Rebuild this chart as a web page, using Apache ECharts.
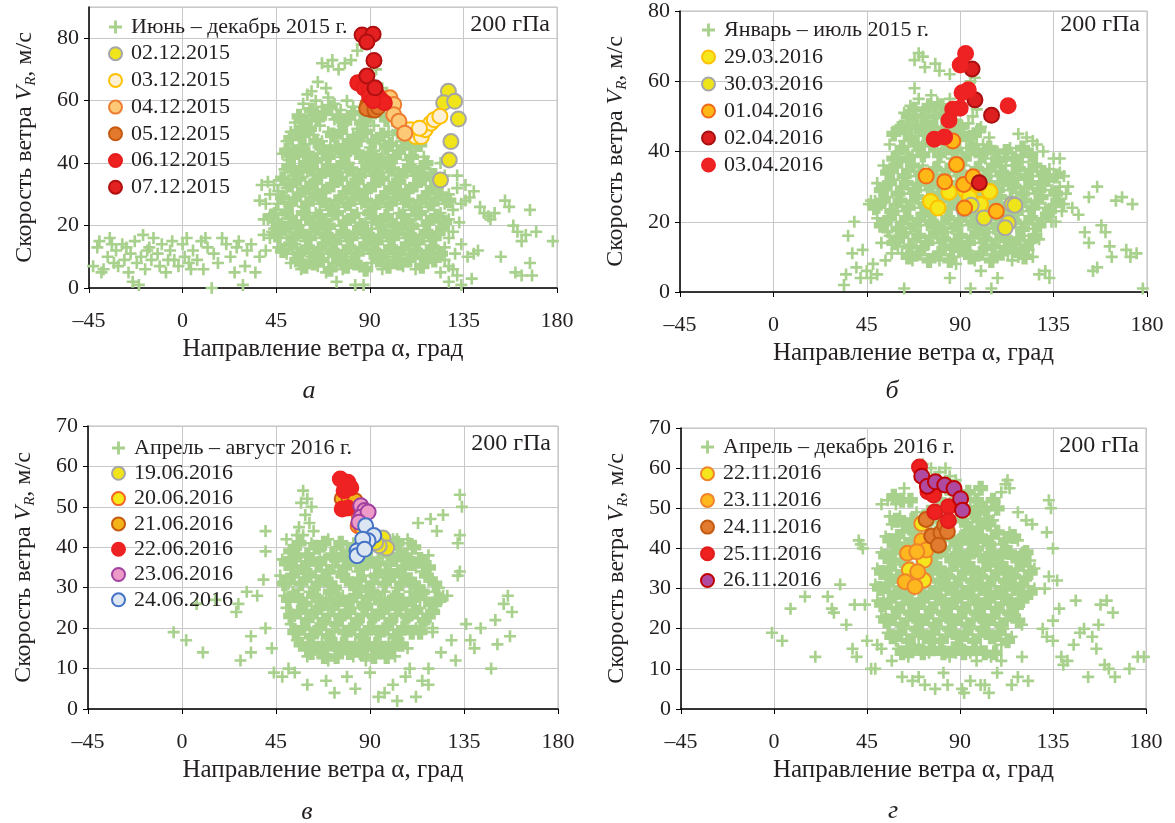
<!DOCTYPE html>
<html>
<head>
<meta charset="utf-8">
<script src="https://cdn.jsdelivr.net/npm/echarts@6/dist/echarts.min.js"></script>
<style>
  html, body { margin: 0; padding: 0; background: #fff; }
  #chart { width: 1175px; height: 823px; }
</style>
</head>
<body>
<div id="chart"></div>
<script>
// ==============================================================
// data: wind direction (deg), wind speed V_R (m/s)
// ==============================================================
var xTicks = [-45, 0, 45, 90, 135, 180];

// panel a — June–December 2015
var cloudA = [
  [-43,7],[-41,13],[-40,15],[-39,5],[-38,6],[-36,10],[-35,16],[-34,14],[-33,8],[-32,12],[-31,7],[-29,14],[-28,9],[-27,13],
  [-26,5],[-25,11],[-24,2],[-23,15],[-22,8],[-21,1],[-20,10],[-19,17],[-18,6],[-17,12],[-16,13],[-15,9],[-14,16],[-12,11],
  [-11,7],[-10,14],[-8,5],[-7,9],[-6,12],[-5,15],[-4,9],[-2,7],[0,14],[1,10],[2,16],[3,8],[4,6],[5,12],[7,9],[9,15],[10,6],
  [11,16],[12,13],[14,0],[15,11],[17,8],[19,16],[21,14],[23,10],[25,5],[26,13],[27,15],[29,1],[30,7],[31,12],[33,14],[35,5],
  [37,10],[39,17],[40,12],
  [40,27],[42,30],[44,19],[42,16],[46,31],[45,25],[39,22],[37,28],
  [126,36],[130,25],[132,36],[134,27],[128,22],[136,33],[124,40],[130,18],[134,14],[126,9],[130,6],
  [58,59],[61,57],[64,60],[67,58],[70,61],[73,59],[76,57],[79,60],[82,58],[86,56],[63,55],
  [62,63],[65,66],[67,72],[70,71],[72,73],[75,70],[78,72],[81,73],[84,76],[86,78],[69,64],[96,64],[98,62],[100,61],[102,60],[93,70],[89,66],[60,62],
  [54,53],[57,51],[60,54],[66,52],[70,50],[73,54],[77,52],[80,55],[84,51],[88,54],[92,52],[96,55],[99,50],[103,52],[52,50],
  [50,47],[53,45],[56,48],[59,46],[63,49],[67,47],[71,45],[74,48],[78,46],[82,49],[86,47],[90,45],[94,48],[97,46],[101,49],[105,47],[110,45],[113,48],
  [48,43],[51,41],[55,44],[58,42],[62,40],[65,43],[69,41],[72,44],[76,42],[80,40],[84,43],[88,41],[92,44],[96,42],[100,40],[104,43],[108,41],[112,44],[116,42],
  [49,38],[53,36],[57,39],[60,37],[64,35],[68,38],[71,36],[75,39],[79,37],[83,35],[87,38],[91,36],[95,39],[99,37],[103,35],[107,38],[111,36],[115,39],[119,37],
  [38,33],[41,34],[44,33],[50,32],[54,34],[58,31],[62,33],[66,30],[70,32],[74,34],[78,31],[82,33],[86,30],[90,32],[94,34],[98,31],[102,33],[106,30],[110,32],[114,34],[118,31],[122,33],[128,30],[132,32],[136,28],[140,31],
  [46,27],[50,25],[54,28],[58,26],[62,29],[66,27],[70,25],[74,28],[78,26],[82,29],[86,27],[90,25],[94,28],[98,26],[102,29],[106,27],[110,25],[114,28],[118,26],[122,29],[126,27],[138,29],[143,26],
  [41,22],[44,24],[48,21],[52,23],[56,20],[60,22],[64,24],[68,21],[72,23],[76,20],[80,22],[84,24],[88,21],[92,23],[96,20],[100,22],[104,24],[108,21],[112,23],[116,20],[120,22],[124,24],[133,21],[147,23],[150,24],
  [43,18],[47,16],[51,19],[55,17],[59,15],[63,18],[67,16],[71,19],[75,17],[79,15],[83,18],[87,16],[91,19],[95,17],[99,15],[103,18],[107,16],[111,19],[115,17],[119,15],[123,18],[128,16],
  [46,13],[50,11],[54,14],[58,12],[62,10],[66,13],[70,11],[74,14],[78,12],[82,10],[86,13],[90,11],[94,14],[98,12],[102,10],[106,13],[110,11],[114,14],[118,12],[122,10],[126,13],[131,11],[137,10],[140,11],
  [52,8],[57,6],[61,9],[65,7],[69,5],[73,8],[77,6],[81,9],[85,7],[91,8],[96,6],[101,9],[106,7],[112,6],[118,8],[124,5],[128,7],[132,4],
  [74,2],[83,1],[87,1],[128,2],[134,1],
  [148,22],[153,10],[155,28],[157,26],[159,20],[161,18],[163,15],[165,17],[167,25],[170,18],[178,15],[160,5],[163,4],[167,8],[168,4],[142,12],[145,24],[139,3]
];
var coreA = [
  [56,55],[59,53],[62,57],[65,54],[68,56],[71,58],[75,55],[78,53],[82,56],[86,53],[90,55],[94,57],[98,54],
  [52,48],[55,50],[58,49],[61,51],[64,47],[72,49],[76,50],[80,47],[84,48],[88,50],[92,47],[96,49],[100,46],[104,50],[108,48],
  [50,44],[53,42],[57,45],[60,43],[64,41],[67,45],[70,42],[74,45],[78,43],[82,45],[86,42],[90,43],[94,41],[98,45],[102,42],[106,45],[110,42],[114,46],
  [51,39],[55,37],[59,40],[62,38],[66,36],[70,39],[73,37],[77,40],[81,38],[85,36],[89,39],[93,37],[97,40],[101,38],[105,36],[109,39],[113,37],[117,40],[121,36],
  [48,35],[52,33],[56,35],[60,32],[64,34],[68,31],[72,33],[76,35],[80,32],[84,34],[88,31],[92,33],[96,35],[100,32],[104,34],[108,31],[112,33],[116,35],[120,32],[124,34],
  [48,29],[52,27],[56,30],[60,27],[64,30],[68,28],[72,26],[76,29],[80,27],[84,30],[88,28],[92,26],[96,29],[100,27],[104,30],[108,28],[112,26],[116,29],[120,27],[124,30],[128,28],
  [43,23],[46,20],[50,24],[54,21],[58,24],[62,21],[66,23],[70,20],[74,24],[78,21],[82,23],[86,20],[90,24],[94,21],[98,23],[102,20],[106,23],[110,20],[114,24],[118,21],[122,23],[126,21],
  [45,17],[49,19],[53,16],[57,18],[61,16],[65,19],[69,17],[73,15],[77,18],[81,16],[85,19],[89,17],[93,15],[97,18],[101,16],[105,19],[109,17],[113,15],[117,18],[121,16],[125,19],
  [48,12],[52,14],[56,11],[60,13],[64,11],[68,14],[72,12],[76,10],[80,13],[84,11],[88,14],[92,12],[96,10],[100,13],[104,11],[108,14],[112,12],[116,10],[120,13],[124,11],
  [55,9],[59,7],[63,8],[67,9],[71,6],[75,9],[79,7],[83,8],[88,6],[94,9],[99,7],[104,8],[109,9],[115,7],[121,9]
];
var a_0212 = [[127.8,63],[125.5,59.3],[130.8,59.8],[132.6,54.1],[129,46.9],[128.2,41],[124,34.6]];
var a_0312 = [[109.5,50.7],[112,48.5],[114.8,48.5],[116.6,50.7],[119.3,52.8],[121,53.9],[113.9,51.2],[123.7,55]];
var a_0412 = [[97.5,60.5],[99.7,60.9],[101.5,58.8],[101.5,55.5],[104,53.4],[106.8,49.6]];
var a_0512 = [[89,58.8],[90.8,57.1],[88.5,57.5],[92.5,57],[94,58]];
var a_0612 = [[84.2,65.7],[87.2,64.1],[89.9,63.6],[93.4,62],[89.9,61.4],[95.2,60.4],[97,59.3],[91.6,60]];
var a_0712 = [[86.3,81],[91.6,81.3],[88.6,78.8],[92,72.9],[88.6,67.9],[92.5,64.1]];

// panel б — January–July 2015
var cloudB = [
  [70,68],[72,67],[68,66],[78,65],[80,63],[85,62],[68,58],[95,60],[97,61],[73,64],
  [34,2],[35,5],[36,16],[38,11],[39,20],[40,7],[42,4],[43,12],[45,6],[46,25],[47,4],[48,8],[50,5],[52,14],[54,9],[55,17],[57,11],[60,13],[63,1],[52,25],[49,26],
  [135,38],[138,34],[141,28],[144,24],[147,22],[150,17],[152,14],[154,6],[156,7],[158,19],[160,17],[162,13],[163,10],[165,26],[168,27],[170,12],[172,10],[175,11],[178,1],[173,25],[156,30],[152,27],
  [138,38],[140,33],[142,30],[136,20],[140,25],[130,40],[127,42],
  [80,9],[85,4],[88,8],[95,1],[100,6],[105,1],[108,4],[115,9],[120,11],[125,10],[128,5],[133,4],[131,6],[112,13],
  [118,45],[122,44],[125,43],[112,38],[115,36],[120,39],[108,40],[104,44],[100,47],[98,52],[96,50],
  [63,51],[66,53],[70,55],[73,52],[76,56],[79,54],[82,51],[85,55],[88,49],[91,53],[94,48],
  [60,47],[64,45],[67,49],[71,46],[74,48],[78,45],[81,47],[85,44],[89,46],[93,43],[97,45],[101,42],
  [56,42],[60,40],[63,43],[67,39],[70,41],[74,43],[78,40],[82,42],[86,38],[90,41],[94,39],[98,42],[102,38],[106,40],[110,37],[114,41],
  [53,36],[57,34],[61,37],[65,35],[69,33],[72,36],[76,34],[80,37],[84,35],[88,33],[92,36],[96,34],[100,37],[104,35],[108,33],[112,36],[116,34],[120,37],[124,35],[128,33],[133,35],
  [50,31],[54,29],[58,32],[62,30],[66,28],[70,31],[74,29],[78,32],[82,30],[86,28],[90,31],[94,29],[98,32],[102,30],[106,28],[110,31],[114,29],[118,32],[122,30],[126,28],[130,31],[134,29],[138,30],
  [47,26],[51,24],[55,27],[59,25],[63,23],[67,26],[71,24],[75,27],[79,25],[83,23],[87,26],[91,24],[95,27],[99,25],[103,23],[107,26],[111,24],[115,27],[119,25],[123,23],[127,26],[131,24],[135,25],[139,23],
  [50,21],[54,19],[58,22],[62,20],[66,18],[70,21],[74,19],[78,22],[82,20],[86,18],[90,21],[94,19],[98,22],[102,20],[106,18],[110,21],[114,19],[118,22],[122,20],[126,18],[130,21],[134,20],
  [56,16],[60,14],[64,17],[68,15],[72,13],[76,16],[80,14],[84,17],[88,15],[92,13],[96,16],[100,14],[104,17],[108,15],[112,16],[116,14],[120,16],[124,14],[128,15],
  [62,11],[67,9],[72,12],[77,10],[82,12],[87,10],[92,11],[97,9],[102,12],[107,10],[113,11],[118,10],[123,12]
];
var coreB = [
  [65,50],[68,52],[72,50],[75,53],[78,50],[81,53],[84,49],[87,52],[90,47],
  [58,45],[62,47],[66,44],[69,47],[73,45],[76,47],[80,44],[83,46],[87,44],[91,45],[95,44],[99,46],
  [58,38],[62,41],[65,38],[69,42],[72,39],[76,42],[80,39],[84,41],[88,40],[92,38],[96,41],[100,39],[104,41],[108,38],[112,40],[116,38],[120,41],[124,39],
  [55,34],[59,36],[63,33],[67,36],[71,34],[74,32],[78,35],[82,33],[86,36],[90,34],[94,32],[98,35],[102,33],[106,36],[110,34],[114,32],[118,35],[122,33],[126,36],[130,34],[136,33],
  [52,29],[56,31],[60,28],[64,31],[68,29],[72,32],[76,30],[80,28],[84,31],[88,29],[92,32],[96,30],[100,28],[104,31],[108,29],[112,32],[116,30],[120,28],[124,31],[128,29],[132,32],[136,28],
  [49,24],[53,26],[57,23],[61,26],[65,24],[69,27],[73,25],[77,23],[81,26],[85,24],[89,27],[93,25],[97,23],[101,26],[105,24],[109,27],[113,25],[117,23],[121,26],[125,24],[129,27],[133,23],[137,26],
  [52,19],[56,21],[60,18],[64,21],[68,19],[72,22],[76,20],[80,18],[84,21],[88,19],[92,22],[96,20],[100,18],[104,21],[108,19],[112,22],[116,20],[120,18],[124,21],[128,19],[132,22],
  [58,14],[62,16],[66,13],[70,16],[74,14],[78,17],[82,15],[86,13],[90,16],[94,14],[98,17],[102,15],[106,13],[110,16],[114,14],[118,15],[122,13],[126,16],
  [65,10],[70,11],[75,9],[80,11],[85,9],[90,12],[95,10],[100,11],[105,9],[110,11],[116,12],[121,10]
];
var b_2903 = [[75.7,25.8],[79.3,23.9],[84.6,28.4],[92.6,28.8],[104.2,28.6],[99.8,25],[98.9,30.6],[94.5,27]];
var b_3003 = [[91.7,23.7],[95.3,24.7],[101.5,21.1],[113.1,19.7],[111.7,18.3],[114.9,24.9],[116.3,24.7]];
var b_0104 = [[86.4,43],[88.2,36.3],[73.6,33],[82.5,31.4],[91.7,30.6],[96.2,32.8],[92.1,23.9],[107.4,23]];
var b_0204 = [[95.7,63.5],[97.1,54.7],[105.1,50.3],[99.2,31.1]];
var b_0304 = [[92.6,67.9],[90,64.6],[90.9,56.7],[93.9,57.6],[86.4,52],[90,52.3],[84.6,48.9],[113.1,53],[77.5,43.5],[82.5,44.1]];

// panel в — April–August 2016
var cloudC = [
  [-4,19],[2,17],[10,14],[7,26],[16,27],[26,24],[27,26],[31,29],[36,28],[28,12],[33,14],[33,18],[40,20],[39,32],[40,39],[40,44],[43,15],[44,9],[48,8],[51,10],[54,9],
  [58,54],[60,52],[57,51],[62,50],[59,48],[61,46],[56,45],[63,44],[55,43],
  [60,6],[69,7],[73,4],[79,8],[83,5],[90,9],[94,3],[97,4],[101,6],[103,2],[107,8],[109,10],[112,3],[115,7],[118,10],[118,6],
  [113,46],[119,47],[125,48],[133,53],[134,50],[133,43],[132,41],[133,34],[132,33],[127,28],[136,21],[138,17],[140,15],[143,20],[148,10],[150,22],[151,16],[154,26],[156,28],[157,18],[158,24],[131,12],[129,17],[124,14],[120,20],[118,38],[122,44],[108,42],[103,42],
  [50,42],[54,40],[58,43],[62,41],[66,39],[70,42],[74,40],[78,38],[82,41],[97,40],[101,42],[105,39],[109,41],
  [48,37],[52,35],[56,38],[60,36],[64,34],[68,37],[72,35],[76,38],[80,36],[84,34],[88,37],[92,35],[96,38],[100,36],[104,34],[108,37],[112,35],[116,36],
  [47,33],[51,31],[55,34],[59,32],[63,30],[67,33],[71,31],[75,34],[79,32],[83,30],[87,33],[91,31],[95,34],[99,32],[103,30],[107,33],[111,31],[115,34],[119,32],[123,30],
  [49,28],[53,29],[57,27],[61,29],[65,28],[69,27],[73,29],[77,28],[81,27],[85,29],[89,28],[93,27],[97,29],[101,28],[105,27],[109,29],[113,28],[117,27],[121,29],[125,28],
  [50,25],[54,23],[58,26],[62,24],[66,25],[70,23],[74,26],[78,24],[82,25],[86,23],[90,26],[94,24],[98,25],[102,23],[106,26],[110,24],[114,25],[118,23],[122,26],
  [52,21],[56,19],[60,22],[64,20],[68,21],[72,19],[76,22],[80,20],[84,21],[88,19],[92,22],[96,20],[100,21],[104,19],[108,22],[112,20],[116,21],[120,19],
  [55,17],[59,15],[63,18],[67,16],[71,17],[75,15],[79,18],[83,16],[87,17],[91,15],[95,18],[99,16],[103,17],[108,15],
  [60,13],[65,14],[70,12],[76,14],[82,13],[88,12],[94,14],[102,13]
];
var coreC = [
  [52,39],[56,41],[60,38],[64,40],[68,41],[72,38],[76,41],[80,39],[99,38],[103,41],[107,38],[111,40],
  [50,36],[54,37],[58,35],[62,37],[66,36],[70,34],[74,37],[78,35],[82,37],[86,35],[90,37],[94,36],[98,34],[102,37],[106,35],[110,36],[114,37],[118,35],
  [49,31],[53,33],[57,31],[61,33],[65,31],[69,32],[73,30],[77,33],[81,31],[85,32],[89,30],[93,33],[97,31],[101,33],[105,31],[109,32],[113,30],[117,33],[121,31],
  [51,27],[55,28],[59,26],[63,28],[67,26],[71,29],[75,27],[79,26],[83,28],[87,26],[91,29],[95,27],[99,26],[103,28],[107,26],[111,27],[115,29],[119,26],[123,27],
  [52,23],[56,24],[60,22],[64,24],[68,22],[72,25],[76,23],[80,24],[84,22],[88,25],[92,23],[96,24],[100,22],[104,25],[108,23],[112,24],[116,22],[120,24],
  [54,19],[58,20],[62,18],[66,20],[70,18],[74,21],[78,19],[82,20],[86,18],[90,20],[94,19],[98,20],[102,18],[106,20],[110,19],[114,19],
  [57,16],[61,16],[65,15],[69,15],[73,16],[77,16],[81,15],[85,15],[89,16],[93,16],[97,15],[101,15],[105,16],
  [62,14],[68,13],[74,13],[80,14],[86,14],[92,13],[98,13]
];
var c_1906 = [[96.2,42.3],[98,39.8],[94.4,40.4],[92.7,41.2]];
var c_2006 = [[78.5,52.2],[84.7,48.2],[84.3,45.3],[86,45]];
var c_2106 = [[76.7,52],[80,51.8],[82.9,51.5]];
var c_2206 = [[75.8,56.9],[79.4,56.1],[80.8,54.7],[77.6,54],[76.7,49.5],[79.4,49.7]];
var c_2306 = [[85.6,50.3],[87.4,49.1],[85.6,47.4],[89.1,48.7],[84.7,46.2]];
var c_2406 = [[87.9,45.3],[91.8,42.9],[89.1,41.6],[86.5,42],[83.8,39.1],[83.8,37.9],[87.4,39.5]];

// panel г — April–December 2016
var cloudD = [
  [72,61],[76,60],[80,59],[85,58],[88,57],[83,60],[63,55],[59,51],[55,52],[52,51],[56,48],[60,47],[95,52],[100,50],[104,48],
  [112,56],[114,55],[110,54],[113,57],[118,49],[122,47],[133,52],[134,50],[125,46],[132,44],
  [-1,19],[4,17],[8,25],[15,28],[20,13],[26,28],[28,25],[29,24],[32,31],[35,21],[39,26],[38,15],[40,13],[41,42],[42,41],[43,40],[44,26],[45,17],[47,10],[49,10],[50,16],[52,15],
  [57,12],[62,8],[67,7],[70,8],[73,6],[78,5],[82,9],[84,6],[88,14],[91,5],[92,4],[95,7],[98,12],[100,6],[102,6],[104,4],[108,9],[110,12],[115,6],[118,8],[120,13],[123,7],
  [130,20],[132,18],[135,17],[137,32],[138,25],[139,13],[140,11],[142,12],[145,16],[146,27],[148,19],[150,20],[152,8],[154,18],[156,15],[157,21],[158,26],[160,11],[161,27],[162,10],[164,24],[165,8],[172,10],[176,13],[179,13],[135,22],[133,33],[135,40],[131,30],
  [57,46],[61,48],[65,45],[69,49],[77,47],[81,46],[89,48],[93,46],[97,49],[101,45],[106,47],
  [54,43],[58,41],[62,44],[66,42],[70,43],[74,41],[78,44],[86,42],[90,43],[94,41],[98,44],[102,42],[106,43],[110,41],[114,44],[118,42],
  [52,39],[56,37],[60,40],[64,38],[68,39],[76,37],[80,40],[84,38],[88,39],[92,37],[96,40],[100,38],[104,39],[108,37],[112,40],[116,38],[120,39],[124,37],
  [50,35],[54,33],[58,36],[62,34],[66,35],[74,33],[78,36],[82,34],[86,35],[90,33],[94,36],[98,34],[102,35],[106,33],[110,36],[114,34],[118,35],[122,33],[126,35],
  [49,31],[53,29],[57,32],[61,30],[70,29],[74,32],[78,30],[82,31],[86,29],[90,32],[94,30],[98,31],[102,29],[106,32],[110,30],[114,31],[118,29],[122,32],[126,30],
  [50,27],[54,25],[58,28],[62,26],[66,27],[70,25],[74,28],[78,26],[82,27],[86,25],[90,28],[94,26],[98,27],[102,25],[106,28],[110,26],[114,27],[118,25],[122,28],
  [52,23],[56,21],[60,24],[64,22],[68,23],[72,21],[76,24],[80,22],[84,23],[88,21],[92,24],[96,22],[100,23],[104,21],[108,24],[112,22],[116,23],[120,21],
  [55,19],[59,17],[63,20],[67,18],[71,19],[75,17],[79,20],[83,18],[87,19],[91,17],[95,20],[99,18],[103,19],[107,17],[111,20],[115,18],
  [60,15],[65,13],[70,16],[75,14],[80,15],[85,13],[90,16],[95,14],[100,15],[105,13],[110,16]
];
var coreD = [
  [90,52],[94,54],[98,52],[102,50],[92,50],[96,49],[86,51],[80,52],[84,55],[100,55],[106,52],[108,50],[66,52],[62,52],[58,53],
  [59,47],[63,46],[67,47],[73,46],[75,49],[79,48],[85,47],[91,47],[95,45],[99,47],[104,46],
  [56,42],[60,43],[64,41],[68,44],[72,42],[76,43],[80,42],[84,44],[88,41],[92,43],[96,42],[100,43],[104,41],[108,44],[112,42],[116,43],
  [54,38],[58,39],[62,37],[66,40],[70,38],[74,39],[78,38],[82,40],[86,37],[90,39],[94,38],[98,40],[102,37],[106,39],[110,38],[114,39],[118,37],[122,39],
  [52,34],[56,35],[60,33],[64,36],[68,34],[72,35],[76,34],[80,35],[84,33],[88,36],[92,34],[96,35],[100,33],[104,36],[108,34],[112,35],[116,33],[120,36],[124,34],
  [51,30],[55,31],[59,29],[63,32],[67,30],[72,31],[76,29],[80,32],[84,30],[88,31],[92,29],[96,32],[100,30],[104,31],[108,29],[112,32],[116,30],[120,31],[124,29],
  [52,26],[56,27],[60,25],[64,28],[68,26],[72,27],[76,25],[80,28],[84,26],[88,27],[92,25],[96,28],[100,26],[104,27],[108,25],[112,28],[116,26],[120,27],
  [54,22],[58,23],[62,21],[66,24],[70,22],[74,23],[78,21],[82,24],[86,22],[90,23],[94,21],[98,24],[102,22],[106,23],[110,21],[114,24],[118,22],
  [57,18],[61,19],[65,17],[69,20],[73,18],[77,19],[81,17],[85,20],[89,18],[93,19],[97,17],[101,20],[105,18],[109,19],[113,17],
  [62,14],[67,15],[72,14],[77,15],[82,14],[87,15],[92,14],[97,15],[102,14],[107,14]
];
var d_2211 = [[71.5,46.2],[72.7,37.1],[72.4,32.1],[65.5,34.6]];
var d_2311 = [[64.6,38.8],[71.5,41.9],[73.6,39.6],[69.1,39.2],[69.5,34.2],[63.4,31.7],[68.2,30.5]];
var d_2411 = [[73.6,47.2],[76.3,43.1],[80.8,43.9],[79.6,40.8],[82.6,45.8],[83.9,44.2]];
var d_2511 = [[70.4,60.3],[74.5,54.1],[77.2,53.3],[77.8,49.1],[84.4,50.4],[84.4,46.9]];
var d_2611 = [[71.5,58],[74.2,55.5],[78.1,56.6],[82.6,55.8],[87.1,54.9],[90.3,52.4],[91.2,49.5]];

// ==============================================================
// panels
// ==============================================================
var FONT = 'Liberation Serif';
var INK = '#231f20';
var GREEN = '#a9d18e';
var CROSS = 'path://M3.9,0H6.1V3.9H10V6.1H6.1V10H3.9V6.1H0V3.9H3.9Z';
// the dense core of each cloud: overlapping crosses merge into a solid mass
var CROSS_CORE = 'path://M2.9,0H7.1V2.9H10V7.1H7.1V10H2.9V7.1H0V2.9H2.9Z';

var panels = [
  { grid: { left: 89, top: 7, width: 468, height: 281 }, ymax: 90, yint: 20,
    name: 'Июнь – декабрь 2015 г.', cloud: cloudA, core: coreA, letter: 'а', letterPos: [309, 391],
    legendPos: [108, 16], legendGap: 4.7,
    marks: [
      ['02.12.2015', a_0212, '#efe51a', '#a6a6a6'],
      ['03.12.2015', a_0312, '#fdefd3', '#ffc000'],
      ['04.12.2015', a_0412, '#fdc977', '#ed7d31'],
      ['05.12.2015', a_0512, '#e2792c', '#c55a11'],
      ['06.12.2015', a_0612, '#ee2121', '#e51c1c'],
      ['07.12.2015', a_0712, '#e42020', '#b01010']
    ] },
  { grid: { left: 680, top: 7, width: 467, height: 285 }, ymax: 80, yint: 20,
    name: 'Январь – июль 2015 г.', cloud: cloudB, core: coreB, letter: 'б', letterPos: [892, 391],
    legendPos: [701, 19], legendGap: 5,
    marks: [
      ['29.03.2016', b_2903, '#f6e61c', '#ffc000'],
      ['30.03.2016', b_3003, '#eee41a', '#a6a6a6'],
      ['01.04.2016', b_0104, '#ffb815', '#f06a1a'],
      ['02.04.2016', b_0204, '#dd1f1f', '#a81010'],
      ['03.04.2016', b_0304, '#ee2222', '#ee2222']
    ] },
  { grid: { left: 88, top: 426, width: 470, height: 283 }, ymax: 70, yint: 10,
    name: 'Апрель – август 2016 г.', cloud: cloudC, core: coreC, letter: 'в', letterPos: [307, 812],
    legendPos: [111, 437], legendGap: 3.3,
    marks: [
      ['19.06.2016', c_1906, '#f2e41a', '#a6a6a6'],
      ['20.06.2016', c_2006, '#f7e81a', '#f26522'],
      ['21.06.2016', c_2106, '#f5b31a', '#c55a11'],
      ['22.06.2016', c_2206, '#ee2222', '#ee2222'],
      ['23.06.2016', c_2306, '#ee9ac8', '#a040a0'],
      ['24.06.2016', c_2406, '#dce6f2', '#4472c4']
    ] },
  { grid: { left: 681, top: 428, width: 465, height: 281 }, ymax: 70, yint: 10,
    name: 'Апрель – декабрь 2016 г.', cloud: cloudD, core: coreD, letter: 'г', letterPos: [893, 811],
    legendPos: [700, 436], legendGap: 4.7,
    marks: [
      ['22.11.2016', d_2211, '#f5e51c', '#f0842a'],
      ['23.11.2016', d_2311, '#fdb820', '#f0842a'],
      ['24.11.2016', d_2411, '#e07b30', '#c55a11'],
      ['25.11.2016', d_2511, '#ee2020', '#e01c1c'],
      ['26.11.2016', d_2611, '#b04aa0', '#c00000']
    ] }
];

var option = {
  backgroundColor: '#fff',
  animation: false,
  textStyle: { fontFamily: FONT, color: INK },
  grid: [], xAxis: [], yAxis: [], series: [], legend: [], graphic: []
};

panels.forEach(function (p, i) {
  option.grid.push(Object.assign({ show: true, borderColor: '#bfbfbf', borderWidth: 1 }, p.grid));

  option.xAxis.push({
    gridIndex: i, type: 'value', min: xTicks[0], max: xTicks[xTicks.length - 1], interval: 45,
    name: 'Направление ветра α, град', nameLocation: 'middle', nameGap: 49,
    nameTextStyle: { fontFamily: FONT, fontSize: 25, color: INK },
    axisLine: { onZero: false, lineStyle: { color: '#000', width: 1.5 } },
    axisTick: { show: true, inside: false, length: 5, lineStyle: { color: '#000' } },
    axisLabel: { margin: 22, fontFamily: FONT, fontSize: 22, color: INK,
      formatter: function (v) { return v < 0 ? '–' + Math.abs(v) : String(v); } },
    splitLine: { show: true, lineStyle: { color: '#c8c8c8', width: 1 } }
  });

  option.yAxis.push({
    gridIndex: i, type: 'value', min: 0, max: p.ymax, interval: p.yint,
    name: 'Скорость ветра {v|V}{r|R}, м/с', nameLocation: 'middle', nameGap: 50,
    nameTextStyle: { fontFamily: FONT, fontSize: 24, color: INK, lineHeight: 28,
      rich: {
        v: { fontFamily: FONT, fontSize: 24, fontStyle: 'italic', color: INK },
        r: { fontFamily: FONT, fontSize: 15, fontStyle: 'italic', color: INK, lineHeight: 15, verticalAlign: 'bottom' }
      } },
    axisLine: { onZero: false, lineStyle: { color: '#000', width: 1.5 } },
    axisTick: { show: true, inside: false, length: 5, lineStyle: { color: '#000' } },
    axisLabel: { margin: 10, fontFamily: FONT, fontSize: 22, color: INK, showMaxLabel: p.ymax % p.yint === 0 },
    splitLine: { show: true, lineStyle: { color: '#c8c8c8', width: 1 } }
  });

  // same name -> one legend entry for both parts of the cloud
  option.series.push({
    name: p.name, type: 'scatter', xAxisIndex: i, yAxisIndex: i,
    symbol: CROSS_CORE, symbolSize: 15, data: p.core,
    itemStyle: { color: GREEN, opacity: 1 }, z: 2
  });
  option.series.push({
    name: p.name, type: 'scatter', xAxisIndex: i, yAxisIndex: i,
    symbol: CROSS, symbolSize: 12, data: p.cloud,
    itemStyle: { color: GREEN, opacity: 1 }, z: 2
  });

  var legendData = [{ name: p.name, icon: CROSS }];
  p.marks.forEach(function (m) {
    option.series.push({
      name: m[0], type: 'scatter', xAxisIndex: i, yAxisIndex: i,
      symbol: 'circle', symbolSize: 15, data: m[1],
      itemStyle: { color: m[2], borderColor: m[3], borderWidth: 2, opacity: 1 }, z: 3
    });
    legendData.push({ name: m[0], icon: 'circle' });
  });

  option.legend.push({
    orient: 'vertical', left: p.legendPos[0], top: p.legendPos[1],
    itemWidth: 13, itemHeight: 13, itemGap: p.legendGap, padding: 0,
    data: legendData, selectedMode: false,
    textStyle: { fontFamily: FONT, fontSize: 22, color: INK, padding: [0, 0, 0, 4] }
  });

  option.graphic.push({
    type: 'text', right: 1175 - (p.grid.left + p.grid.width) + 7, top: p.grid.top + 6,
    style: { text: '200 гПа', font: '24px "Liberation Serif"', fill: INK }
  });
  option.graphic.push({
    type: 'text', x: p.letterPos[0], y: p.letterPos[1],
    style: { text: p.letter, font: 'italic 26px "Liberation Serif"', fill: INK,
      textAlign: 'center', textVerticalAlign: 'middle' }
  });
});

var chart = echarts.init(document.getElementById('chart'));
chart.setOption(option);
</script>
</body>
</html>
